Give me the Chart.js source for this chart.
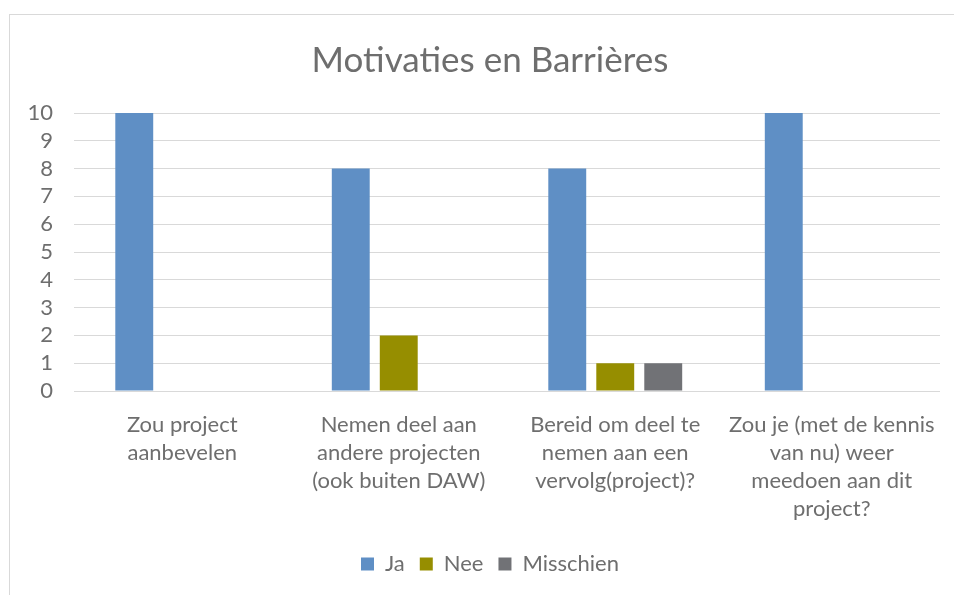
<!DOCTYPE html>
<html>
<head>
<meta charset="utf-8">
<script src="https://cdn.jsdelivr.net/npm/chart.js@4"></script>
<style>
  html, body { margin: 0; padding: 0; background: #fff; overflow: hidden; }
  #frame { position: absolute; left: 9px; top: 14px; border-left: 1px solid #d9d9d9; border-top: 1px solid #d9d9d9; }
  canvas { display: block; }
</style>
</head>
<body>
<div id="frame"><canvas id="chart" width="960" height="580"></canvas></div>
<script>
// categorieën (meerregelige labels zoals in Excel)
const categories = [
  ['Zou project', 'aanbevelen'],
  ['Nemen deel aan', 'andere projecten', '(ook buiten DAW)'],
  ['Bereid om deel te', 'nemen aan een', 'vervolg(project)?'],
  ['Zou je (met de kennis', 'van nu) weer', 'meedoen aan dit', 'project?']
];
const seriesNames = ['Ja', 'Nee', 'Misschien'];
const jaValues = [10, 8, 8, 10];
const neeValues = [0, 2, 1, 0];
const misschienValues = [0, 0, 1, 0];
const yTicks = [0, 1, 2, 3, 4, 5, 6, 7, 8, 9, 10];

const textColor = '#6e6e6e';
const fontFamily = 'Lato, "Open Sans", sans-serif';

const ctx = document.getElementById('chart').getContext('2d');
new Chart(ctx, {
  type: 'bar',
  data: {
    labels: categories,
    datasets: [
      { label: seriesNames[0], data: jaValues, backgroundColor: '#5f8fc5' },
      { label: seriesNames[1], data: neeValues, backgroundColor: '#968e00' },
      { label: seriesNames[2], data: misschienValues, backgroundColor: '#717276' }
    ]
  },
  options: {
    responsive: false,
    devicePixelRatio: 1,
    animation: false,
    categoryPercentage: 0.665,
    barPercentage: 0.79,
    borderWidth: 0,
    layout: { padding: { left: 0, right: 0, top: 0, bottom: 10 } },
    plugins: {
      title: {
        display: true,
        text: 'Motivaties en Barrières',
        color: textColor,
        font: { family: fontFamily, size: 35, weight: 'normal' },
        padding: { top: 25, bottom: 31 }
      },
      legend: {
        position: 'bottom',
        labels: {
          color: textColor,
          font: { family: fontFamily, size: 22 },
          boxWidth: 13,
          boxHeight: 13,
          padding: 15
        }
      },
      tooltip: { enabled: false }
    },
    scales: {
      x: {
        grid: { display: false },
        border: { display: false },
        ticks: {
          color: textColor,
          font: { family: fontFamily, size: 22, lineHeight: '28px' },
          padding: 12,
          maxRotation: 0,
          autoSkip: false
        },
        afterFit: (scale) => { scale.height = 147; }
      },
      y: {
        min: 0,
        max: 10,
        afterBuildTicks: (scale) => { scale.ticks = yTicks.map(v => ({ value: v })); },
        grid: { color: '#d9d9d9', lineWidth: 1, drawTicks: false },
        border: { display: false },
        ticks: {
          color: textColor,
          font: { family: fontFamily, size: 22 },
          padding: 21,
          autoSkip: false
        },
        afterFit: (scale) => { scale.width = 64; }
      },
      // lege as rechts: houdt ruimte vrij zodat titel en legenda gecentreerd blijven
      yRight: {
        type: 'linear',
        position: 'right',
        min: 0,
        max: 10,
        grid: { display: false },
        border: { display: false },
        ticks: { display: false },
        afterFit: (scale) => { scale.width = 30; }
      }
    }
  }
});
</script>
</body>
</html>
